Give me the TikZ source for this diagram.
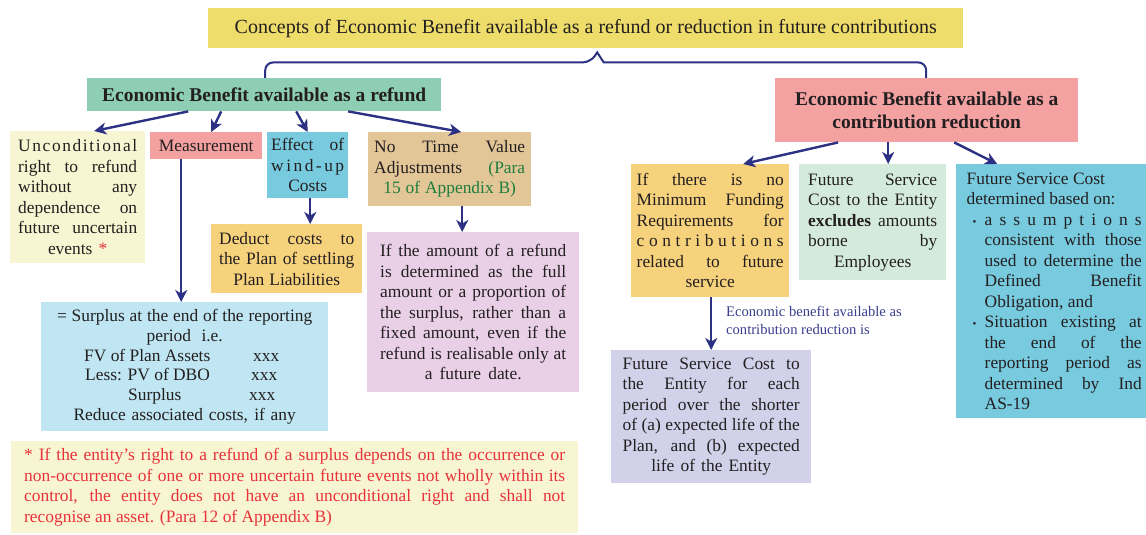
\documentclass[tikz,border=0pt]{standalone}
\usepackage{fontspec}
\setmainfont{Liberation Serif}
\usetikzlibrary{arrows.meta,calc}
\definecolor{titleY}{HTML}{EEDC6B}
\definecolor{greenH}{HTML}{8DCEB4}
\definecolor{creamY}{HTML}{F8F5D2}
\definecolor{pinkM}{HTML}{F4A1A1}
\definecolor{cyanB}{HTML}{78CADF}
\definecolor{tanB}{HTML}{E3C697}
\definecolor{orangeY}{HTML}{F7D27D}
\definecolor{mauve}{HTML}{E9D0E7}
\definecolor{lightB}{HTML}{BFE6F2}
\definecolor{mint}{HTML}{D4EBDC}
\definecolor{lav}{HTML}{D1D1E9}
\definecolor{navy}{HTML}{2D3183}
\definecolor{labnavy}{HTML}{3A3C8C}
\definecolor{dgreen}{HTML}{1E7D3E}
\definecolor{redT}{HTML}{E8313A}
\definecolor{txt}{HTML}{231F20}
\newcommand\bodyfs{\fontsize{17.4}{20.5}\selectfont}
\newcommand\titlefs{\fontsize{20}{23}\selectfont}
\newcommand\headfs{\fontsize{19.5}{22.5}\selectfont\bfseries}
\newcommand\labfs{\fontsize{14.6}{18}\selectfont}
\newcommand\J[1]{\makebox[\hsize][s]{\spaceskip=0pt\xspaceskip=0pt #1}}
\newcommand\BI[1]{\hspace*{6pt}\makebox[12pt][l]{\fontsize{11}{11}\selectfont\textbullet}\makebox[\dimexpr\hsize-18pt\relax][s]{\spaceskip=0pt\xspaceskip=0pt #1}}
\newcommand\BJ[1]{\hspace*{18pt}\makebox[\dimexpr\hsize-18pt\relax][s]{\spaceskip=0pt\xspaceskip=0pt #1}}
\newcommand\BL[1]{\hspace*{18pt}#1}
\tikzset{
  box/.style={anchor=north west, inner sep=0pt, font=\bodyfs, align=center, text=txt,
    execute at begin node={\spaceskip=0pt\xspaceskip=0pt}},
  arr/.style={draw=navy, line width=2.4pt, -{Stealth[length=12pt,width=12pt,inset=3.5pt]}},
  brc/.style={draw=navy, line width=2pt},
}
\begin{document}
\begin{tikzpicture}[x=1pt,y=-1pt]
\useasboundingbox (0,0) rectangle (1146,535);

\node[box, fill=titleY, minimum width=755pt, minimum height=40pt, font=\titlefs] (title) at (208,8)
  {Concepts of Economic Benefit available as a refund or reduction in future contributions};

\node[box, fill=greenH, minimum width=354pt, minimum height=33pt, font=\headfs] (green) at (87,78)
  {Economic Benefit available as a refund};

\node[box, fill=pinkM, minimum width=303pt, minimum height=64pt, font=\headfs] (rpink) at (775,78)
  {Economic Benefit available as a\\contribution reduction};

\node[box, fill=creamY, minimum width=135pt, minimum height=132pt, text width=119pt] (unc) at (10,131)
  {\J{U\hfil n\hfil c\hfil o\hfil n\hfil d\hfil i\hfil t\hfil i\hfil o\hfil n\hfil a\hfil l}\\
   \J{right to refund}\\ \J{without any}\\ \J{dependence on}\\ \J{future uncertain}\\
   events \textcolor{redT}{*}};

\node[box, fill=pinkM, minimum width=112pt, minimum height=27pt] (meas) at (150,132) {Measurement};

\node[box, fill=cyanB, minimum width=81pt, minimum height=66pt, text width=73pt] (effect) at (267,132)
  {\J{Effect of}\\ \J{w\hfil i\hfil n\hfil d\hfil -\hfil u\hfil p}\\ Costs};

\node[box, fill=tanB, minimum width=163pt, minimum height=74pt, text width=151pt] (notime) at (368,132)
  {\J{No Time Value}\\ \J{Adjustments \textcolor{dgreen}{(Para}}\\ \textcolor{dgreen}{15 of Appendix B)}};

\node[box, fill=orangeY, minimum width=151pt, minimum height=69pt, text width=135pt] (deduct) at (211,224)
  {\J{Deduct costs to}\\ \J{the Plan of settling}\\ Plan Liabilities};

\node[box, fill=mauve, minimum width=212pt, minimum height=160pt, text width=186pt] (amount) at (367,232)
  {\J{If the amount of a refund}\\ \J{is determined as the full}\\ \J{amount or a proportion of}\\
   \J{the surplus, rather than a}\\ \J{fixed amount, even if the}\\ \J{refund is realisable only at}\\
   a future date.};

\node[box, fill=lightB, minimum width=287pt, minimum height=129pt, text width=270pt,
      font=\fontsize{17.4}{19.8}\selectfont] (surplus) at (41,302)
  {= Surplus at the end of the reporting\\ period i.e.\\
   \makebox[201pt][l]{\rlap{FV of Plan Assets}\hspace*{169pt}xxx}\\
   \makebox[201pt][l]{\hspace*{1pt}\rlap{Less: PV of DBO}\hspace*{166pt}xxx}\\
   \makebox[201pt][l]{\hspace*{44pt}\rlap{Surplus}\hspace*{121pt}xxx}\\
   Reduce associated costs, if any};

\node[box, fill=creamY, minimum width=567pt, minimum height=92pt, text width=541pt, align=left,
      text=redT] (foot) at (11,441)
  {\J{* If the entity’s right to a refund of a surplus depends on the occurrence or}\\
   \J{non-occurrence of one or more uncertain future events not wholly within its}\\
   \J{control, the entity does not have an unconditional right and shall not}\\
   recognise an asset. (Para 12 of Appendix B)};

\node[box, fill=orangeY, minimum width=158pt, minimum height=133pt, text width=147pt] (ifthere) at (631,164)
  {\J{If there is no}\\ \J{Minimum Funding}\\ \J{Requirements for}\\
   \J{c\hfil o\hfil n\hfil t\hfil r\hfil i\hfil b\hfil u\hfil t\hfil i\hfil o\hfil n\hfil s}\\
   \J{related to future}\\ service};

\node[box, fill=mint, minimum width=147pt, minimum height=116pt, text width=129pt] (future) at (799,164)
  {\J{Future Service}\\ \J{Cost to the Entity}\\ \J{\textbf{excludes} amounts}\\ \J{borne by}\\ Employees};

\node[box, fill=cyanB, minimum width=196pt, minimum height=254pt, text width=175pt, align=left] (blue) at (956,164)
  {Future Service Cost\\ determined based on:\\
   \BI{a\hfil s\hfil s\hfil u\hfil m\hfil p\hfil t\hfil i\hfil o\hfil n\hfil s}\\
   \BJ{consistent with those}\\ \BJ{used to determine the}\\ \BJ{Defined Benefit}\\ \BL{Obligation, and}\\
   \BI{Situation existing at}\\ \BJ{the end of the}\\ \BJ{reporting period as}\\ \BJ{determined by Ind}\\
   \BL{AS-19}};

\node[box, fill=lav, minimum width=200pt, minimum height=133pt, text width=177pt] (lavb) at (611,350)
  {\J{Future Service Cost to}\\ \J{the Entity for each}\\ \J{period over the shorter}\\
   \J{of (a) expected life of the}\\ \J{Plan, and (b) expected}\\ life of the Entity};

\node[anchor=north west, inner sep=0pt, font=\labfs, text=labnavy, align=left,
      execute at begin node={\spaceskip=0pt\xspaceskip=0pt}] (lab) at (726,306)
  {Economic benefit available as\\contribution reduction is};

% brace
\coordinate (bl) at ($(title.south)+(0,14)$);
\draw[brc] ([xshift=1pt]green.north) [rounded corners=8pt] -- ([xshift=1pt]green.north |- bl)
  -- ($(title.south)+(5,14)$) [sharp corners] -- ($(title.south)+(11.5,4)$) -- ($(title.south)+(18,14)$)
  [rounded corners=8pt] -- ([xshift=-0.5pt]rpink.north |- bl) -- ([xshift=-0.5pt]rpink.north);

% arrows left
\draw[arr] ([xshift=-76pt]green.south) -- ([xshift=16.5pt]unc.north);
\draw[arr] ([xshift=-43pt]green.south) -- ([xshift=5pt]meas.north);
\draw[arr] ([xshift=32pt]green.south) -- (effect.north);
\draw[arr] ([xshift=84pt]green.south) -- ([xshift=11.5pt]notime.north);
\draw[arr] ([xshift=-25pt]meas.south) -- ([xshift=-25pt]meas.south |- surplus.north);
\draw[arr] ([xshift=2.5pt]effect.south) -- ([xshift=2.5pt]effect.south |- deduct.north);
\draw[arr] ([xshift=12.5pt]notime.south) -- ([xshift=12.5pt]notime.south |- amount.north);
% arrows right
\draw[arr] ([xshift=-88.5pt]rpink.south) -- ([xshift=33pt]ifthere.north);
\draw[arr] ([xshift=-38.5pt]rpink.south) -- ([xshift=-38.5pt]rpink.south |- future.north);
\draw[arr] ([xshift=27.5pt]rpink.south) -- ([xshift=-57pt]blue.north);
\draw[arr] ([xshift=1pt]ifthere.south) -- ([xshift=1pt]ifthere.south |- lavb.north);
\end{tikzpicture}
\end{document}
